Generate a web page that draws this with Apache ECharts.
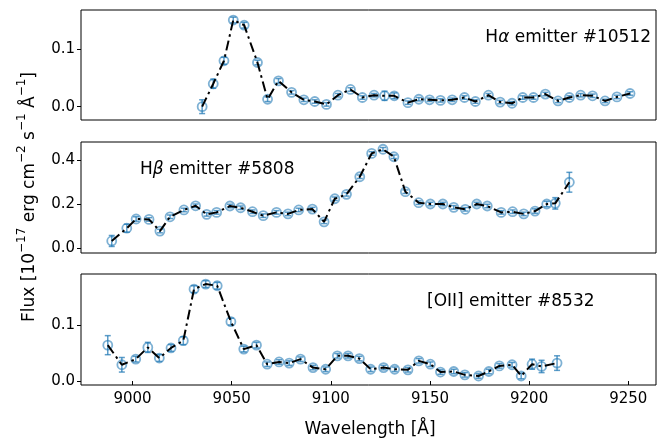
<!DOCTYPE html>
<html><head><meta charset="utf-8">
<script src="https://cdn.jsdelivr.net/npm/echarts@6/dist/echarts.min.js"></script>
<style>html,body{margin:0;padding:0;background:#fff}#c{width:667px;height:441px}</style>
</head><body><div id="c"></div>
<script>
// ---- data ----
const haWave = [9035.1,9040.7,9046.1,9050.8,9056.3,9063.0,9068.1,9073.6,9080.2,9086.4,9091.9,9097.8,9103.6,9109.9,9115.9,9121.8,9127.1,9132.0,9138.9,9144.4,9149.8,9155.3,9161.2,9167.4,9172.9,9179.5,9185.4,9191.4,9196.8,9202.2,9208.2,9214.6,9220.3,9226.0,9232.0,9238.3,9244.3,9250.9];
const haFlux = [0.000,0.040,0.080,0.151,0.142,0.077,0.013,0.045,0.025,0.012,0.009,0.004,0.020,0.030,0.016,0.020,0.019,0.019,0.007,0.013,0.012,0.011,0.012,0.016,0.009,0.020,0.008,0.006,0.016,0.016,0.022,0.010,0.016,0.020,0.019,0.010,0.017,0.023];
const haErr  = [0.012,0.008,0.006,0.005,0.005,0.004,0.004,0.004,0.003,0.003,0.003,0.003,0.003,0.003,0.003,0.003,0.008,0.005,0.003,0.003,0.003,0.003,0.003,0.003,0.003,0.003,0.003,0.003,0.003,0.003,0.003,0.003,0.003,0.003,0.003,0.003,0.003,0.003];

const hbWave = [8989.5,8997.1,9001.8,9008.3,9013.8,9018.9,9025.9,9031.8,9037.4,9042.4,9049.1,9054.5,9060.5,9065.9,9072.6,9078.4,9083.8,9090.7,9096.6,9102.0,9107.9,9114.6,9120.6,9126.3,9131.8,9137.6,9144.3,9150.2,9156.5,9162.0,9167.8,9173.6,9178.9,9185.9,9191.7,9197.3,9203.0,9208.9,9213.2,9220.3];
const hbFlux = [0.032,0.090,0.132,0.130,0.077,0.142,0.173,0.192,0.153,0.162,0.191,0.183,0.165,0.147,0.162,0.155,0.173,0.177,0.119,0.224,0.244,0.324,0.430,0.449,0.415,0.256,0.206,0.200,0.200,0.185,0.176,0.200,0.191,0.162,0.165,0.155,0.168,0.200,0.203,0.299];
const hbErr  = [0.025,0.018,0.010,0.008,0.008,0.008,0.008,0.008,0.008,0.008,0.008,0.008,0.008,0.008,0.008,0.008,0.008,0.008,0.008,0.008,0.008,0.008,0.008,0.008,0.008,0.008,0.008,0.008,0.008,0.008,0.008,0.008,0.008,0.008,0.008,0.008,0.010,0.012,0.026,0.045];

const oiiWave = [8987.5,8994.6,9001.6,9007.7,9013.5,9019.4,9025.6,9031.0,9036.9,9042.7,9049.6,9056.1,9062.5,9067.9,9073.9,9079.0,9084.7,9091.0,9097.4,9103.3,9108.7,9114.4,9120.1,9126.6,9132.2,9138.9,9144.4,9150.2,9155.3,9162.0,9167.6,9174.5,9179.7,9185.0,9191.4,9196.0,9201.5,9206.3,9214.1];
const oiiFlux = [0.064,0.029,0.039,0.060,0.041,0.059,0.072,0.164,0.173,0.170,0.106,0.057,0.064,0.030,0.034,0.032,0.039,0.024,0.021,0.045,0.045,0.040,0.021,0.024,0.021,0.020,0.036,0.030,0.016,0.017,0.011,0.009,0.017,0.027,0.029,0.009,0.030,0.026,0.032];
const oiiErr  = [0.017,0.013,0.005,0.009,0.006,0.006,0.007,0.006,0.006,0.006,0.006,0.005,0.005,0.004,0.004,0.004,0.004,0.004,0.004,0.004,0.004,0.004,0.004,0.004,0.004,0.004,0.004,0.004,0.004,0.004,0.004,0.004,0.004,0.004,0.004,0.005,0.009,0.011,0.013];

const xTicks = [9000,9050,9100,9150,9200,9250];
const yTicks1 = [0.0,0.1];
const yTicks2 = [0.0,0.2,0.4];
const yTicks3 = [0.0,0.1];
const labels = ['H{i|\u03b1} emitter #10512','H{i|\u03b2} emitter #5808','[OII] emitter #8532'];

// ---- chart ----
const FONT = 'DejaVu Sans';
const BLUE = 'rgba(31,119,180,0.72)';
const chart = echarts.init(document.getElementById('c'), null, {renderer:'canvas'});

const grids = [
  {left:81, right:11, top:10, height:110},
  {left:81, right:11, top:142, height:111},
  {left:81, right:11, top:274, height:111}
].map(g => Object.assign(g, {show:true, borderColor:'#000', borderWidth:1, backgroundColor:'transparent'}));

const yRanges = [[-0.0232,0.1685],[-0.0227,0.482],[-0.0071,0.191]];
const yTicksAll = [yTicks1,yTicks2,yTicks3];

const xAxes = [0,1,2].map(i => ({
  type:'value', gridIndex:i, min:8974, max:9264,
  axisLine:{show:false}, splitLine:{show:false},
  axisTick: i===2 ? {show:true, customValues:xTicks, length:4, lineStyle:{color:'#000'}} : {show:false},
  axisLabel: i===2 ? {show:true, customValues:xTicks, color:'#000', fontFamily:FONT, fontSize:15, margin:7,
    formatter: v => String(Math.round(v))} : {show:false}
}));
const yAxes = [0,1,2].map(i => ({
  type:'value', gridIndex:i, min:yRanges[i][0], max:yRanges[i][1],
  axisLine:{show:false}, splitLine:{show:false},
  axisTick:{show:true, customValues:yTicksAll[i], length:4, lineStyle:{color:'#000'}},
  axisLabel:{show:true, customValues:yTicksAll[i], color:'#000', fontFamily:FONT, fontSize:15, margin:6,
    formatter: v => v.toFixed(1)}
}));

function errSeries(i, w, f, e){
  return {
    type:'custom', xAxisIndex:i, yAxisIndex:i, z:2,
    data: w.map((x,k)=>[x, f[k]-e[k], f[k]+e[k]]),
    encode:{x:0, y:[1,2]},
    renderItem:(params, api)=>{
      const x=api.value(0), lo=api.value(1), hi=api.value(2);
      const a=api.coord([x,hi]), b=api.coord([x,lo]);
      const st={stroke:BLUE, lineWidth:1.5};
      const c=3;
      return {type:'group', children:[
        {type:'line', shape:{x1:a[0],y1:a[1],x2:b[0],y2:b[1]}, style:st},
        {type:'line', shape:{x1:a[0]-c,y1:a[1],x2:a[0]+c,y2:a[1]}, style:st},
        {type:'line', shape:{x1:b[0]-c,y1:b[1],x2:b[0]+c,y2:b[1]}, style:st}
      ]};
    }
  };
}
function markSeries(i, w, f){
  return {type:'scatter', xAxisIndex:i, yAxisIndex:i, z:3, symbol:'circle', symbolSize:9,
    itemStyle:{color:'transparent', borderColor:BLUE, borderWidth:1.8},
    data:w.map((x,k)=>[x,f[k]]), silent:true};
}
function lineSeries(i, w, f){
  return {type:'line', xAxisIndex:i, yAxisIndex:i, z:4, symbol:'none', smooth:false,
    lineStyle:{color:'#000', width:2, type:[10,4,2.5,4]},
    data:w.map((x,k)=>[x,f[k]]), silent:true};
}
const sets = [[haWave,haFlux,haErr],[hbWave,hbFlux,hbErr],[oiiWave,oiiFlux,oiiErr]];
const series = [];
sets.forEach((s,i)=>{ series.push(errSeries(i,s[0],s[1],s[2])); series.push(markSeries(i,s[0],s[1])); series.push(lineSeries(i,s[0],s[1])); });

const richMain = {i:{fontFamily:FONT, fontSize:17, fontStyle:'italic', color:'#000'}};
const graphic = [
  {type:'text', right:16, top:29, style:{text:labels[0], fontFamily:FONT, fontSize:17, fill:'#000', rich:richMain}},
  {type:'text', left:140, top:161, style:{text:labels[1], fontFamily:FONT, fontSize:17, fill:'#000', rich:richMain}},
  {type:'text', left:427, top:293, style:{text:labels[2], fontFamily:FONT, fontSize:17, fill:'#000', rich:richMain}},
  {type:'text', x:370, y:430, style:{text:'Wavelength [\u00c5]', fontFamily:FONT, fontSize:17, fill:'#000', align:'center', verticalAlign:'middle'}},
  {type:'text', x:27, y:197, rotation:Math.PI/2,
    style:{text:'{a|Flux [10}{s|\u221217}{a| erg cm}{s|\u22122}{a| s}{s|\u22121}{a| \u00c5}{s|\u22121}{a|]}',
      align:'center', verticalAlign:'middle',
      rich:{a:{fontFamily:FONT, fontSize:17, lineHeight:23, verticalAlign:'bottom', fill:'#000'},
            s:{fontFamily:FONT, fontSize:12, lineHeight:14, verticalAlign:'top', fill:'#000'}}}}
];

chart.setOption({animation:false, backgroundColor:'#fff', grid:grids, xAxis:xAxes, yAxis:yAxes, series, graphic});
</script></body></html>
